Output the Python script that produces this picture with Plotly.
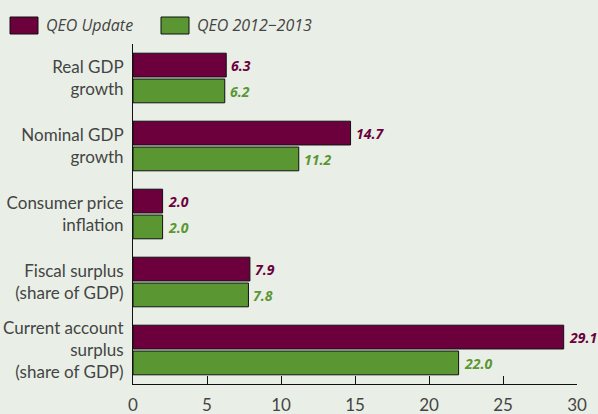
import plotly.graph_objects as go

categories = [
    "Real GDP<br>growth",
    "Nominal GDP<br>growth",
    "Consumer price<br>inflation",
    "Fiscal surplus<br>(share of GDP)",
    "Current account<br>surplus<br>(share of GDP)",
]
qeo_update = [6.3, 14.7, 2.0, 7.9, 29.1]
qeo_2012_2013 = [6.2, 11.2, 2.0, 7.8, 22.0]
x_ticks = [0, 5, 10, 15, 20, 25, 30]

PURPLE = "#6b003c"
GREEN = "#5a9632"
BG = "#e9efe6"
FONT = "Open Sans, sans-serif"
LABEL_FONT = "Lato, Open Sans, sans-serif"
TEXT = "#444444"

fig = go.Figure()
series = [("QEO Update", qeo_update, PURPLE),
          ("QEO 2012\u22122013", qeo_2012_2013, GREEN)]
for name, vals, col in series:
    fig.add_trace(go.Bar(
        y=categories, x=vals, orientation="h", name=name, offsetgroup=name,
        marker=dict(color=col, line=dict(color="#111", width=1)),
        showlegend=False,
    ))

# value labels next to each bar end
for idx, (name, vals, col) in enumerate(series):
    for cat, v in zip(categories, vals):
        fig.add_annotation(
            x=v, y=cat, xref="x", yref="y", text=f"<b><i>{v:.1f}</i></b>",
            showarrow=False, xanchor="left", xshift=3,
            yshift=13 if idx == 0 else -13,
            font=dict(family=FONT, size=14, color=col),
        )

# legend swatches and labels
legend_items = [("QEO Update", PURPLE, 10), ("QEO 2012\u22122013", GREEN, 161)]
for label, col, x0 in legend_items:
    fig.add_shape(type="rect", xref="paper", yref="paper",
                  x0=(x0 - 133) / 444, x1=(x0 + 28 - 133) / 444,
                  y0=(384 - 34) / 340, y1=(384 - 17) / 340,
                  fillcolor=col, line=dict(color="#111", width=1))
    fig.add_annotation(text=f"<i>{label}</i>", xref="paper", yref="paper",
                       x=(x0 + 34 - 133) / 444, y=(384 - 25.5) / 340,
                       xanchor="left", yanchor="middle", showarrow=False,
                       font=dict(family=FONT, size=16, color=TEXT))

fig.update_layout(
    width=598, height=414,
    margin=dict(l=133, r=21, t=44, b=30),
    paper_bgcolor=BG, plot_bgcolor=BG,
    barmode="group", bargap=0.24, bargroupgap=0.08,
    font=dict(family=LABEL_FONT, size=17, color=TEXT),
    xaxis=dict(range=[0, 30], tickvals=x_ticks, ticks="inside", ticklen=8,
               tickcolor="#111", showline=True, linecolor="#111",
               showgrid=False, zeroline=False, ticklabelstandoff=6,
               automargin=False,
               tickfont=dict(size=17, color=TEXT)),
    yaxis=dict(autorange="reversed", showline=True, linecolor="#111",
               showgrid=False, ticks="", ticklabelstandoff=5,
               automargin=False,
               tickfont=dict(size=17, color=TEXT)),
)

fig.write_html("out.html")
